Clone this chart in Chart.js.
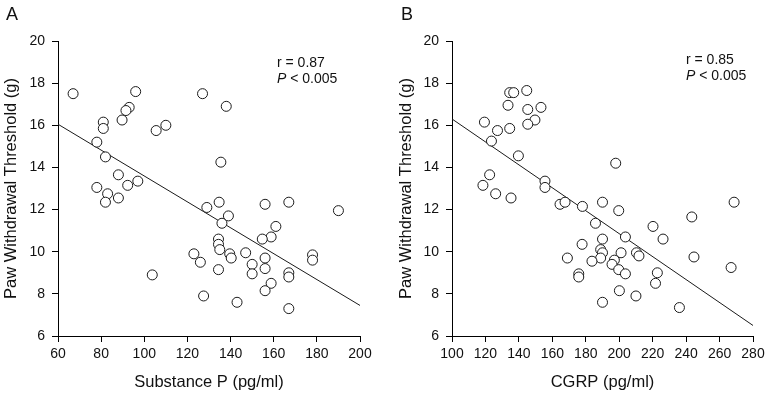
<!DOCTYPE html>
<html>
<head>
<meta charset="utf-8">
<script src="https://cdn.jsdelivr.net/npm/chart.js@4/dist/chart.umd.min.js"></script>
<style>
  body { margin: 0; background: #fff; }
  #wrap { position: relative; width: 771px; height: 401px; font-family: "Liberation Sans", Arial, sans-serif; color: #111; }
  canvas { position: absolute; top: 0; }
  #chartA { left: 0; }
  #chartB { left: 385px; }
  .panel { position: absolute; font-size: 18px; line-height: 20px; }
  .stats { position: absolute; font-size: 14px; line-height: 16px; }
</style>
</head>
<body>
<div id="wrap">
  <canvas id="chartA" width="385" height="401"></canvas>
  <canvas id="chartB" width="386" height="401"></canvas>
  <div class="panel" style="left:6px; top:4px;">A</div>
  <div class="panel" style="left:401px; top:4px;">B</div>
  <div class="stats" style="left:277px; top:54px;">r = 0.87<br><i>P</i> &lt; 0.005</div>
  <div class="stats" style="left:686px; top:51px;">r = 0.85<br><i>P</i> &lt; 0.005</div>
</div>
<script>
// panel A - substance P vs threshold
const spValues = [67, 96, 127, 138, 93, 91.5, 89.7, 81, 81, 110, 105.5, 78, 82, 135.5, 88, 97, 78, 92.3, 83, 82, 88,
  103.7, 123, 126, 127.5, 129, 134.7, 139, 136, 134.4, 134.4, 135, 134.4, 139.6, 140.3, 147, 150, 150, 156, 156,
  158.8, 156, 143, 167, 167, 167, 178, 178, 190, 156, 167, 161, 158.8, 154.7];
const spThreshold = [17.5, 17.6, 17.5, 16.9, 16.85, 16.7, 16.25, 16.15, 15.85, 16.0, 15.75, 15.2, 14.5, 14.25, 13.65, 13.35, 13.05, 13.15, 12.75, 12.35, 12.55,
  8.9, 9.9, 9.5, 7.9, 12.1, 12.35, 11.7, 11.35, 10.6, 10.35, 10.1, 9.15, 9.9, 9.7, 9.95, 9.4, 8.95, 9.7, 9.2,
  8.5, 8.15, 7.6, 7.3, 9.0, 8.8, 9.85, 9.6, 11.95, 12.25, 12.35, 11.2, 10.7, 10.6];
const spFitX = [60, 200];
const spFitY = [16.05, 7.45];

// panel B - CGRP vs threshold
const cgrpValues = [119.4, 127.2, 123.6, 133.5, 134.5, 136.9, 144.7, 145.3, 153.2, 149.6, 145.3, 134.5, 139.7, 122.5, 155.6,
  118.5, 126.1, 135.3, 155.6, 164.6, 167.6, 178, 177.8, 169, 175.8, 175.8, 190, 199.7, 185.8, 190, 188.9, 190, 188.9,
  183.7, 197.1, 195.7, 199.7, 203.7, 201.1, 203.7, 210.3, 211.8, 200.1, 190, 210, 220.2, 226.2, 222.8, 221.7, 236,
  243.4, 244.7, 268.7, 266.9, 197.9];
const cgrpThreshold = [16.15, 15.75, 15.25, 16.95, 17.55, 17.55, 17.65, 16.75, 16.85, 16.25, 16.05, 15.85, 14.55, 13.65, 13.35,
  13.15, 12.75, 12.55, 13.05, 12.25, 12.35, 12.15, 10.35, 9.7, 8.95, 8.8, 12.35, 11.95, 11.35, 10.6, 10.1, 9.95, 9.7,
  9.55, 9.6, 9.4, 9.15, 8.95, 9.95, 10.7, 9.95, 9.8, 8.15, 7.6, 7.9, 11.2, 10.6, 9.0, 8.5, 7.35,
  11.65, 9.75, 12.35, 9.25, 14.2];
const cgrpFitX = [100, 280];
const cgrpFitY = [16.3, 6.5];

const yTicksMin = 6;
const yTicksMax = 20;

function toPoints(xs, ys) {
  let pts = [];
  for (let i = 0; i < xs.length; i++) {
    pts.push({ x: xs[i], y: ys[i] });
  }
  return pts;
}

function makeChart(id, xs, ys, fitX, fitY, xMin, xMax, xTitle, yAxisWidth, yTitlePad, rightPad) {
  const ctx = document.getElementById(id).getContext('2d');
  const axisFont = { family: 'Liberation Sans', size: 14 };
  const titleFont = { family: 'Liberation Sans', size: 16.5 };

  return new Chart(ctx, {
    type: 'scatter',
    data: {
      datasets: [{
        data: toPoints(xs, ys),
        pointRadius: 5,
        pointHoverRadius: 5,
        pointBackgroundColor: '#fff',
        pointBorderColor: '#1a1a1a',
        pointBorderWidth: 1,
        order: 1
      }, {
        type: 'line',
        data: toPoints(fitX, fitY),
        borderColor: '#1a1a1a',
        borderWidth: 1,
        pointRadius: 0,
        fill: false,
        order: 2
      }]
    },
    options: {
      responsive: false,
      animation: false,
      layout: { padding: { top: 41, right: rightPad, left: 0, bottom: 0 } },
      plugins: { legend: { display: false }, tooltip: { enabled: false } },
      scales: {
        x: {
          type: 'linear',
          min: xMin,
          max: xMax,
          ticks: { stepSize: 20, color: '#111', font: axisFont, padding: 4, maxRotation: 0 },
          grid: { drawOnChartArea: false, drawTicks: true, tickLength: 6, color: '#000' },
          border: { color: '#000' },
          title: { display: true, text: xTitle, color: '#111', font: titleFont, padding: { top: 0, bottom: 9 } },
          afterFit: function (scale) { scale.height = 65; }
        },
        y: {
          min: yTicksMin,
          max: yTicksMax,
          ticks: { stepSize: 2, color: '#111', font: axisFont, padding: 7 },
          grid: { drawOnChartArea: false, drawTicks: true, tickLength: 6, color: '#000' },
          border: { color: '#000' },
          title: { display: true, text: 'Paw Withdrawal Threshold (g)', color: '#111', font: titleFont, padding: { top: yTitlePad, bottom: 0 } },
          afterFit: function (scale) { scale.width = yAxisWidth; }
        }
      }
    }
  });
}

makeChart('chartA', spValues, spThreshold, spFitX, spFitY, 60, 200, 'Substance P (pg/ml)', 58, 2, 25);
makeChart('chartB', cgrpValues, cgrpThreshold, cgrpFitX, cgrpFitY, 100, 280, 'CGRP (pg/ml)', 67, 12, 18);
</script>
</body>
</html>
